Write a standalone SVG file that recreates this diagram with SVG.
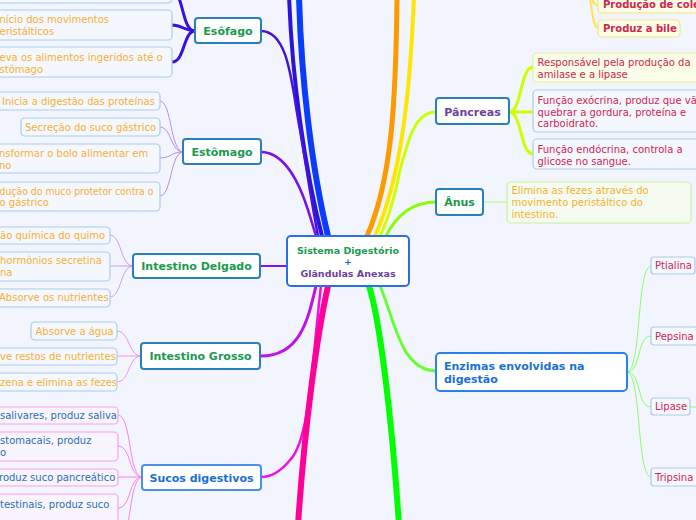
<svg xmlns="http://www.w3.org/2000/svg" width="696" height="520" viewBox="0 0 696 520">
<style>
text{font-family:"DejaVu Sans",Verdana,sans-serif;}
.t{font-size:10px;}
.b{font-size:11px;font-weight:bold;}
.or{fill:#f6b130;}
.cr{fill:#d0264f;}
.bl{fill:#2a6fb0;}
.gr{fill:#1a9a50;}
.pu{fill:#6b3fa0;}
.node{fill:#ffffff;stroke:#2a7fba;stroke-width:2;}
.cb{fill:#f5f7ff;stroke:#a9cbec;stroke-width:1.2;}
.cp{fill:#f8f5ff;stroke:#ff9cf0;stroke-width:1.2;}
.cy{fill:#fdfde8;stroke:#f3e780;stroke-width:1.2;}
.cg{fill:#f5fbf0;stroke:#c8f2a0;stroke-width:1.2;}
.cl{fill:#fafde8;stroke:#e2f2a0;stroke-width:1.2;}
#connectors path{fill:none;stroke-linecap:round;}
</style>
<rect width="696" height="520" fill="#f2f5fd"/>
<g id="connectors">
<path d="M289,-5 C292,80 305,170 322,236" stroke="#2a14dc" stroke-width="4"/>
<path d="M299,-5 C301,80 312,170 328,236" stroke="#0a3cff" stroke-width="6"/>
<path d="M261,31 C290,31 292,90 300,130 C306,165 312,205 318,236" stroke="#4612e0" stroke-width="2.5"/>
<path d="M261,152 C285,152 300,185 308,210 C312,222 314,230 316,236" stroke="#7a10ea" stroke-width="2.5"/>
<path d="M397,-5 C396,100 392,180 367,236" stroke="#ff9900" stroke-width="5"/>
<path d="M414,-5 C410,100 400,180 375,236" stroke="#ffe600" stroke-width="4"/>
<path d="M436,112 C415,112 408,140 400,170 C395,195 388,220 380,236" stroke="#ccff00" stroke-width="3"/>
<path d="M436,202 C410,202 395,218 386,236" stroke="#88ff00" stroke-width="3"/>
<path d="M287,266 L261,266" stroke="#8a10f0" stroke-width="2"/>
<path d="M316,286 C308,320 300,356 261,356" stroke="#c010f0" stroke-width="3"/>
<path d="M321,286 C312,360 310,440 290,460 C282,470 272,477 261,477" stroke="#f010e8" stroke-width="2.5"/>
<path d="M328,286 C318,330 305,420 298,525" stroke="#ff0099" stroke-width="6"/>
<path d="M369,286 C380,320 392,420 399,525" stroke="#00ff00" stroke-width="6"/>
<path d="M380,286 C395,320 400,370 436,371" stroke="#66ff33" stroke-width="3"/>
<path d="M195,31 C185,31 182,25 172,25" stroke="#3a10e0" stroke-width="3"/>
<path d="M195,31 C183,31 185,62 172,62" stroke="#3a10e0" stroke-width="3"/>
<path d="M195,31 C182,31 184,-5 172,-12" stroke="#3a10e0" stroke-width="3"/>
<path d="M183,152 C170,152 172,101 160,101" stroke="#b88af8" stroke-width="1"/>
<path d="M183,152 C170,152 172,127 160,127" stroke="#b88af8" stroke-width="1"/>
<path d="M183,152 C170,152 172,158 160,158" stroke="#b88af8" stroke-width="1"/>
<path d="M183,152 C170,152 172,196 160,196" stroke="#b88af8" stroke-width="1"/>
<path d="M133,266 C120,266 122,235 110,235" stroke="#d495f5" stroke-width="1"/>
<path d="M133,266 L110,266" stroke="#d495f5" stroke-width="1"/>
<path d="M133,266 C120,266 122,297 110,297" stroke="#d495f5" stroke-width="1"/>
<path d="M141,356 C128,356 130,331 117,331" stroke="#f092f0" stroke-width="1"/>
<path d="M141,356 L117,356" stroke="#f092f0" stroke-width="1"/>
<path d="M141,356 C128,356 130,382 117,382" stroke="#f092f0" stroke-width="1"/>
<path d="M142,477 C128,477 132,415 118,415" stroke="#ff80e8" stroke-width="1"/>
<path d="M142,477 C128,477 132,446 118,446" stroke="#ff80e8" stroke-width="1"/>
<path d="M142,477 L118,477" stroke="#ff80e8" stroke-width="1"/>
<path d="M142,477 C128,477 132,508 118,508" stroke="#ff80e8" stroke-width="1"/>
<path d="M142,477 C128,477 132,545 118,545" stroke="#ff80e8" stroke-width="1"/>
<path d="M580,-25 C590,-25 588,5 598,5" stroke="#ffe44d" stroke-width="2"/>
<path d="M580,-25 C592,-25 590,28 598,28" stroke="#ffe44d" stroke-width="2"/>
<path d="M509,112 C522,112 520,67 533,67" stroke="#ccff00" stroke-width="3"/>
<path d="M509,112 L533,112" stroke="#ccff00" stroke-width="3"/>
<path d="M509,112 C522,112 520,154 533,154" stroke="#ccff00" stroke-width="3"/>
<path d="M483,202 L507,202" stroke="#a8ff70" stroke-width="1"/>
<path d="M627,372 C642,372 636,266 651,266" stroke="#88ff66" stroke-width="1"/>
<path d="M627,372 C642,372 636,336 651,336" stroke="#88ff66" stroke-width="1"/>
<path d="M627,372 C642,372 636,407 651,407" stroke="#88ff66" stroke-width="1"/>
<path d="M627,372 C642,372 636,477 651,477" stroke="#88ff66" stroke-width="1"/>
<path d="M690,407 L700,407" stroke="#88ff66" stroke-width="1"/>
</g>

<g id="center">
<rect x="287" y="236" width="122" height="50" rx="4" fill="#ffffff" stroke="#2b6fe8" stroke-width="2"/>
<text x="348" y="253.5" text-anchor="middle" style="font-size:9.5px;font-weight:bold" class="gr">Sistema Digestório</text>
<text x="348" y="265" text-anchor="middle" style="font-size:9.5px;font-weight:bold" fill="#1a70c8">+</text>
<text x="348" y="276.5" text-anchor="middle" style="font-size:9.5px;font-weight:bold" class="pu">Glândulas Anexas</text>
</g>

<g id="esofago">
<rect class="node" x="195" y="18" width="66" height="25" rx="3"/>
<text class="b gr" x="228" y="35" text-anchor="middle">Esôfago</text>
</g>
<g id="esofago-c0"><rect class="cb" x="-10" y="-30" width="182" height="33" rx="4"/></g>
<g id="esofago-c1">
<rect class="cb" x="-10" y="10" width="182" height="30" rx="4"/>
<text class="t or" x="-0.5" y="22.5">nício dos movimentos</text>
<text class="t or" x="-0.5" y="34.5">eristálticos</text>
</g>
<g id="esofago-c2">
<rect class="cb" x="-10" y="47" width="182" height="30" rx="4"/>
<text class="t or" x="-0.5" y="60.5">eva os alimentos ingeridos até o</text>
<text class="t or" x="-0.5" y="72.5">stômago</text>
</g>

<g id="estomago">
<rect class="node" x="183" y="139" width="78" height="25" rx="3"/>
<text class="b gr" x="222" y="156" text-anchor="middle">Estômago</text>
</g>
<g id="estomago-c1">
<rect class="cb" x="-5" y="92" width="165" height="18" rx="4"/>
<text class="t or" x="2" y="104.5">Inicia a digestão das proteínas</text>
</g>
<g id="estomago-c2">
<rect class="cb" x="21" y="118" width="139" height="18" rx="4"/>
<text class="t or" x="25" y="130.5">Secreção do suco gástrico</text>
</g>
<g id="estomago-c3">
<rect class="cb" x="-20" y="144" width="180" height="29" rx="4"/>
<text class="t or" x="-1" y="156.5">nsformar o bolo alimentar em</text>
<text class="t or" x="-1" y="168.5">no</text>
</g>
<g id="estomago-c4">
<rect class="cb" x="-20" y="182" width="180" height="29" rx="4"/>
<text class="t or" x="-0.5" y="194.5" textLength="154" lengthAdjust="spacingAndGlyphs">dução do muco protetor contra o</text>
<text class="t or" x="-0.5" y="206">o gástrico</text>
</g>

<g id="delgado">
<rect class="node" x="133" y="254" width="127" height="24" rx="3"/>
<text class="b gr" x="196.5" y="270" text-anchor="middle">Intestino Delgado</text>
</g>
<g id="delgado-c1">
<rect class="cb" x="-20" y="227" width="130" height="17" rx="4"/>
<text class="t or" x="0" y="239">ão química do quimo</text>
</g>
<g id="delgado-c2">
<rect class="cb" x="-20" y="252" width="130" height="29" rx="4"/>
<text class="t or" x="0" y="264">hormônios secretina</text>
<text class="t or" x="0" y="276">na</text>
</g>
<g id="delgado-c3">
<rect class="cb" x="-20" y="289" width="130" height="18" rx="4"/>
<text class="t or" x="-1" y="301">Absorve os nutrientes</text>
</g>

<g id="grosso">
<rect class="node" x="141" y="343" width="119" height="26" rx="3"/>
<text class="b gr" x="200.5" y="360" text-anchor="middle">Intestino Grosso</text>
</g>
<g id="grosso-c1">
<rect class="cb" x="31" y="322" width="86" height="18" rx="4"/>
<text class="t or" x="35.5" y="334.5">Absorve a água</text>
</g>
<g id="grosso-c2">
<rect class="cb" x="-10" y="348" width="127" height="17" rx="4"/>
<text class="t or" x="0" y="360">ve restos de nutrientes</text>
</g>
<g id="grosso-c3">
<rect class="cb" x="-10" y="373" width="127" height="18" rx="4"/>
<text class="t or" x="0" y="385.5">zena e elimina as fezes</text>
</g>

<g id="sucos">
<rect x="142" y="465" width="119" height="25" rx="3" fill="#ffffff" stroke="#4a90e8" stroke-width="2"/>
<text class="b" x="201.5" y="481.5" text-anchor="middle" fill="#1a6fd8">Sucos digestivos</text>
</g>
<g id="sucos-c1">
<rect class="cp" x="-20" y="407" width="138" height="17" rx="4"/>
<text class="t bl" x="0" y="419">salivares, produz saliva</text>
</g>
<g id="sucos-c2">
<rect class="cp" x="-20" y="432" width="138" height="29" rx="4"/>
<text class="t bl" x="0" y="444">stomacais, produz</text>
<text class="t bl" x="0" y="456">o</text>
</g>
<g id="sucos-c3">
<rect class="cp" x="-20" y="469" width="138" height="17" rx="4"/>
<text class="t bl" x="-1" y="481">roduz suco pancreático</text>
</g>
<g id="sucos-c4">
<rect class="cp" x="-20" y="494" width="138" height="34" rx="4"/>
<text class="t bl" x="0" y="507.5">testinais, produz suco</text>
</g>

<g id="figado-c1">
<rect class="cy" x="598" y="-15" width="110" height="28" rx="4"/>
<text class="cr" x="603" y="7.5" style="font-size:10px;font-weight:bold">Produção de cole</text>
</g>
<g id="figado-c2">
<rect class="cy" x="598" y="20" width="82" height="17" rx="4"/>
<text class="cr" x="603" y="32" style="font-size:10px;font-weight:bold">Produz a bile</text>
</g>

<g id="pancreas">
<rect class="node" x="436" y="98" width="73" height="26" rx="3"/>
<text class="b pu" x="472.5" y="115.5" text-anchor="middle">Pâncreas</text>
</g>
<g id="pancreas-c1">
<rect class="cl" x="533" y="53" width="170" height="29" rx="4"/>
<text class="t cr" x="537.5" y="66">Responsável pela produção da</text>
<text class="t cr" x="537.5" y="77.5">amilase e a lipase</text>
</g>
<g id="pancreas-c2">
<rect class="cb" x="533" y="90" width="170" height="42" rx="4"/>
<text class="t cr" x="537.5" y="103.5">Função exócrina, produz que vão</text>
<text class="t cr" x="537.5" y="115.5">quebrar a gordura, proteína e</text>
<text class="t cr" x="537.5" y="127">carboidrato.</text>
</g>
<g id="pancreas-c3">
<rect class="cb" x="533" y="139" width="170" height="30" rx="4"/>
<text class="t cr" x="537.5" y="152.5">Função endócrina, controla a</text>
<text class="t cr" x="537.5" y="164.5">glicose no sangue.</text>
</g>

<g id="anus">
<rect class="node" x="436" y="189" width="47" height="26" rx="3"/>
<text class="b gr" x="459.5" y="206" text-anchor="middle">Ânus</text>
</g>
<g id="anus-c1">
<rect class="cg" x="507" y="182" width="184" height="41" rx="4"/>
<text class="t or" x="511.5" y="194">Elimina as fezes através do</text>
<text class="t or" x="511.5" y="206">movimento peristáltico do</text>
<text class="t or" x="511.5" y="217.5">intestino.</text>
</g>

<g id="enzimas">
<rect x="436" y="353" width="191" height="38" rx="4" fill="#ffffff" stroke="#2a80f0" stroke-width="2"/>
<text class="b" x="444" y="369.5" fill="#1a6fd8">Enzimas envolvidas na</text>
<text class="b" x="444" y="383" fill="#1a6fd8">digestão</text>
</g>
<g id="ptialina">
<rect class="cb" x="651" y="257" width="44" height="17" rx="3"/>
<text class="t cr" x="655" y="269">Ptialina</text>
</g>
<g id="pepsina">
<rect class="cb" x="651" y="327" width="46" height="18" rx="3"/>
<text class="t cr" x="655" y="340">Pepsina</text>
</g>
<g id="lipase">
<rect class="cb" x="651" y="398" width="39" height="17" rx="3"/>
<text class="t cr" x="655" y="410">Lipase</text>
</g>
<g id="tripsina">
<rect class="cb" x="651" y="468" width="48" height="18" rx="3"/>
<text class="t cr" x="655" y="480.5">Tripsina</text>
</g>
</svg>
